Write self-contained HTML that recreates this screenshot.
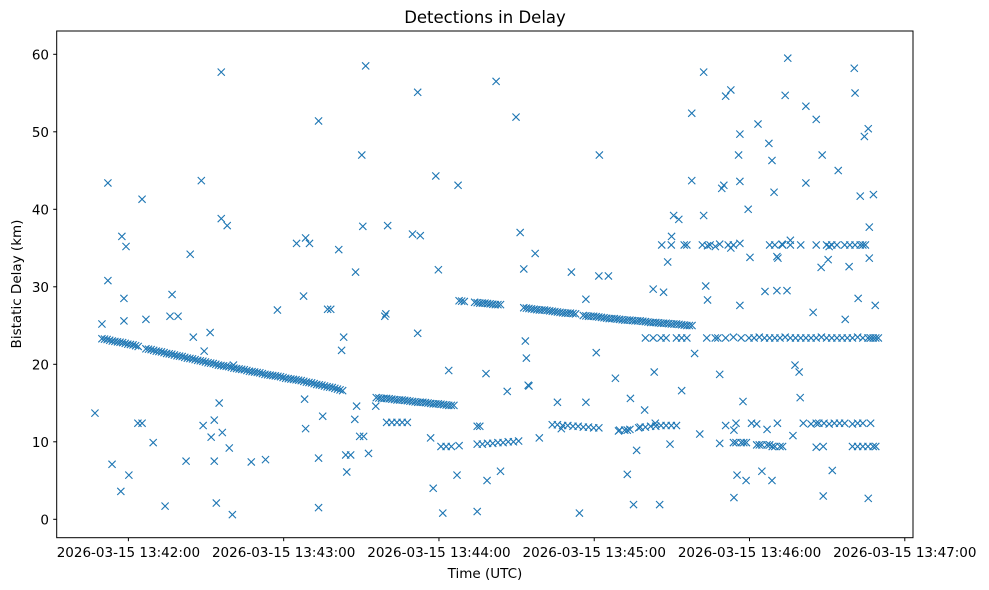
<!DOCTYPE html>
<html><head><meta charset="utf-8"><style>
html,body{margin:0;padding:0;background:#fff;}
svg{display:block;font-family:"DejaVu Sans","Liberation Sans",sans-serif;}
</style></head>
<body>
<svg id="chart" width="989" height="590" viewBox="0 0 989 590" xmlns="http://www.w3.org/2000/svg">
<rect x="0" y="0" width="989" height="590" fill="#fff"/>
<text x="485" y="23" text-anchor="middle" font-size="16.5" fill="#000">Detections in Delay</text>
<text x="485" y="578" text-anchor="middle" font-size="13.5" fill="#000">Time (UTC)</text>
<text transform="translate(21,284) rotate(-90)" text-anchor="middle" font-size="13.5" fill="#000">Bistatic Delay (km)</text>
<g id="marks"></g>
<g id="axes"></g>
</svg>
<script>
// time values: seconds after 13:42:01.78 UTC ; delay in km
const tickTimes = [-1.78, 58.22, 118.22, 178.22, 238.22, 298.22];
const tickLabels = ["2026-03-15 13:42:00","2026-03-15 13:43:00","2026-03-15 13:44:00","2026-03-15 13:45:00","2026-03-15 13:46:00","2026-03-15 13:47:00"];
const yTicks = [0,10,20,30,40,50,60];

const trackAT = [-12,-10,-8,-6,-4,-2,0,2,5,7,9,11,13,15,17,19,21,23,25,27,29,31,33,35,37,39,41,43,45,47,49,51,53,55,57,59,61,63,65,67,69,71,73,75,77,79,81];
const trackAD = [23.3,23.2,23.0,22.9,22.8,22.6,22.5,22.3,22.0,21.9,21.7,21.6,21.4,21.3,21.1,21.0,20.8,20.7,20.5,20.4,20.2,20.1,19.9,19.8,19.7,19.5,19.4,19.3,19.1,19.0,18.9,18.7,18.6,18.5,18.4,18.2,18.1,18.0,17.9,17.7,17.6,17.4,17.3,17.1,17.0,16.8,16.6];
const trackA2T = [-11,-9,-7,-5,-3,-1,1,6,8,10,12,14,16,18,20,22,24,26,28,30,32,34,36,38,40,42,44,46,48,50,52,54,56,58,60,62,64,66,68,70,72,74,76,78,80];
const trackA2D = [23.25,23.1,22.95,22.85,22.7,22.55,22.4,21.95,21.8,21.65,21.5,21.35,21.2,21.05,20.9,20.75,20.6,20.45,20.3,20.15,20.0,19.85,19.75,19.6,19.45,19.35,19.2,19.05,18.95,18.8,18.65,18.55,18.45,18.3,18.15,18.05,17.95,17.8,17.65,17.5,17.35,17.2,17.05,16.9,16.7];
const trackBT = [94,96,98,100,102,104,106,108,110,112,114,116,118,120,122,124];
const trackBD = [15.7,15.6,15.6,15.5,15.4,15.4,15.3,15.2,15.1,15.1,15.0,14.9,14.9,14.8,14.7,14.7];
const trackB2T = [95,97,99,101,103,105,107,109,111,113,115,117,119,121,123];
const trackB2D = [15.65,15.6,15.55,15.45,15.4,15.35,15.25,15.15,15.1,15.05,14.95,14.9,14.85,14.75,14.7];
const trackCT = [126,128,132,134,136,138,140,142,151,153,155,157,159,161,163,165,167,169,171,174,176,178,180,182,184,186,188,190,192,194,196,198,200,202,204,206,208,210,212,214,216];
const trackCD = [28.2,28.1,28.0,27.9,27.9,27.8,27.7,27.7,27.3,27.2,27.1,27.0,27.0,26.9,26.8,26.7,26.6,26.6,26.5,26.3,26.2,26.2,26.1,26.0,25.9,25.9,25.8,25.7,25.7,25.6,25.6,25.5,25.4,25.4,25.3,25.3,25.2,25.2,25.1,25.0,25.0];
const trackC2T = [127,133,135,137,139,141,152,154,156,158,160,162,164,166,168,170,175,177,179,181,183,185,187,189,191,193,195,197,199,201,203,205,207,209,211,213,215];
const trackC2D = [28.15,27.95,27.9,27.85,27.75,27.7,27.25,27.15,27.05,27.0,26.95,26.85,26.75,26.65,26.6,26.55,26.25,26.2,26.15,26.05,25.95,25.9,25.85,25.75,25.7,25.65,25.6,25.55,25.45,25.4,25.35,25.3,25.25,25.2,25.15,25.05,25.0];
const lowT = [98,100,102,104,106,119,121,123,126,133,135,137,139,141,143,145,147,149,162,164,166,168,170,172,174,176,178,180,188,190,192,196,198,200,202,204,206,208,210];
const lowD = [12.5,12.5,12.5,12.5,12.5,9.4,9.4,9.4,9.5,9.7,9.7,9.8,9.8,9.9,9.9,10.0,10.0,10.1,12.2,12.2,12.1,12.1,12.0,12.0,11.9,11.9,11.8,11.8,11.5,11.5,11.6,11.9,11.9,12.0,12.0,12.1,12.1,12.1,12.1];
const lineRT = [198,201,204,206,210,212,214,226,229,232,235,238,240,242,244,246,248,250,252,254,256,258,260,262,264,266,268,270,272,274,276,278,280,282,284,285,286,287,288];
const lineRD = [23.4,23.4,23.4,23.4,23.4,23.4,23.4,23.4,23.4,23.5,23.4,23.4,23.4,23.5,23.4,23.4,23.4,23.4,23.5,23.4,23.4,23.4,23.4,23.4,23.4,23.5,23.4,23.4,23.4,23.4,23.4,23.4,23.5,23.4,23.4,23.4,23.4,23.4,23.4];
const line35T = [208,213,214,220,222,223,225,230,232,246,248,251,254,258,264,268,270,272,275,277,279,281,282,283];
const line35D = [35.4,35.4,35.4,35.4,35.3,35.4,35.2,35.4,35.4,35.4,35.4,35.4,35.4,35.4,35.4,35.4,35.4,35.4,35.4,35.4,35.4,35.4,35.4,35.4];
const line12T = [233,239,241,249,259,262,264,265,267,269,271,273,275,278,280,282,285,232,233,235,236,237,241,242,243,245,246,247,248,250,251,278,280,282,284,286,287];
const line12D = [12.4,12.4,12.3,12.4,12.4,12.3,12.4,12.4,12.4,12.3,12.4,12.4,12.4,12.3,12.4,12.4,12.4,9.9,9.9,9.9,9.9,9.9,9.6,9.6,9.6,9.6,9.6,9.4,9.4,9.4,9.4,9.4,9.4,9.4,9.4,9.4,9.4];
const outT = [-14.7,-12,-9.7,-9.7,-8.1,-4.3,-3.5,-2.7,-3.5,-4.7,-1.6,1.9,3.5,3.5,5,7.8,12.4,14.3,15.1,17.4,20.5,22.1,23.3,26.4,27.5,27.1,29.8,30.2,31.4,31.4,32.2,33.3,34.1,34.1,34.5,36.4,37.2,38.4,38.8,45.7,51.2,55.8,63.2,66.7,65.9,68.2,66.3,66.7,71.7,71.7,71.7,73.3,75.2,76.4,79.5,81.4,80.6,82.6,82.2,84.1,85.7,86,86.4,87.6,88.4,88.8,89.9,89.1,91,93.8,98.4,97.3,97.7,108,110,111,110,115,116,117,118,119.7,122,125.6,125.2,133,133,134,136.8,136.4,140.3,142,144.6,148,149.6,151,151.6,152,155.4,153,157,152.7,164,165.5,169.4,172.5,175,175,179,180,180.2,183.7,186.4,187.6,191,191,192.2,193.4,194.6,195.4,197.7,201,201.4,201.8,203.5,204.3,205,206.6,207.5,208.1,208.9,210.9,212,215.9,215.9,217,219,220.5,220.5,221.7,221.3,222,225,226.7,226.7,226.7,227.5,228.3,229,229,231,231,232.2,232.2,233.4,234.5,234.5,234.5,234,234.5,235.7,236.9,237.7,238.4,241.5,243,244.2,245,245.7,246.9,246.9,247.7,248.8,248.8,249.2,250.8,252,252.7,253,254,255,255.8,257.4,257.8,260,260,262.8,264,266.3,265.9,266.7,268.6,269,270.2,272.5,275.2,276.7,278.7,279,280.2,281,282.6,284.1,284.5,286.1,284.1,284.5,286.8,264,266.7];
const outD = [13.7,25.2,30.8,43.4,7.1,36.5,28.5,35.2,25.6,3.6,5.7,12.4,12.4,41.3,25.8,9.9,1.7,26.2,29,26.2,7.5,34.2,23.5,43.7,21.7,12.1,24.1,10.6,12.8,7.5,2.1,15,57.7,38.8,11.2,37.9,9.2,0.6,19.9,7.4,7.7,27,35.6,36.3,28.8,35.6,15.5,11.7,51.4,7.9,1.5,13.3,27.1,27.1,34.8,23.5,21.8,6.1,8.3,8.3,12.9,31.9,14.6,10.7,47,37.8,58.5,10.7,8.5,14.6,37.9,26.2,26.5,36.8,55.1,36.6,24,10.5,4,44.3,32.2,0.8,19.2,43.1,5.7,12,1,12,5,18.8,56.5,6.2,16.5,51.9,37,32.3,23,20.8,34.3,17.2,10.5,17.3,15.1,11.7,31.9,0.8,28.4,15.1,21.5,31.4,47,31.4,18.2,11.4,5.8,11.5,15.6,1.9,8.9,11.8,14.1,29.7,19,12.4,1.9,35.4,29.3,33.2,9.7,36.5,39.2,38.7,16.6,52.4,43.7,21.4,11,57.7,39.2,23.4,30.1,28.3,23.4,35.5,18.7,9.8,42.7,43.1,54.6,12.1,55.4,35,2.8,11.5,5.7,43.6,49.7,35.6,47,27.6,15.2,5,40,33.8,51,6.2,29.4,11.6,48.5,46.3,5,42.2,29.5,33.9,33.7,35.5,54.7,29.5,59.5,36,10.8,19.9,19,15.7,53.3,43.4,26.7,51.6,47,32.5,3,33.5,35.2,6.3,45,25.8,32.6,58.2,55,28.5,41.7,49.4,50.4,33.7,41.9,2.7,37.7,27.6,9.3,9.4];

const X0 = 133, XS = 2.588, Y0 = 519.3, YS = 7.75;
function xScale(t){ return X0 + t*XS; }
function yScale(d){ return Y0 - d*YS; }
const NS = "http://www.w3.org/2000/svg";
const marks = document.getElementById('marks');
const axes = document.getElementById('axes');
function mk(tag, attrs, parent){ const e=document.createElementNS(NS,tag); for(const k in attrs) e.setAttribute(k,attrs[k]); parent.appendChild(e); return e; }

function drawSeries(ts, ds){
  for(let i=0;i<ts.length;i++){
    const cx=xScale(ts[i]), cy=yScale(ds[i]), r=3.6;
    const p = mk('path',{d:`M${cx-r},${cy-r}L${cx+r},${cy+r}M${cx-r},${cy+r}L${cx+r},${cy-r}`,stroke:'#1f77b4','stroke-width':'1.1',fill:'none'},marks);
    
    
  }
}
drawSeries(trackAT,trackAD);
drawSeries(trackA2T,trackA2D);
drawSeries(trackBT,trackBD);
drawSeries(trackB2T,trackB2D);
drawSeries(trackCT,trackCD);
drawSeries(trackC2T,trackC2D);
drawSeries(lowT,lowD);
drawSeries(lineRT,lineRD);
drawSeries(line35T,line35D);
drawSeries(line12T,line12D);
drawSeries(outT,outD);

const frame = mk('rect',{x:56.7,y:31,width:856.3,height:506.7,fill:'none',stroke:'#000','stroke-width':'1'},axes);


for(let i=0;i<tickTimes.length;i++){
  const x=xScale(tickTimes[i]);
  const tk = mk('line',{x1:x,x2:x,y1:537.7,y2:541.2,stroke:'#000','stroke-width':'1'},axes);
  
  
  const tl = mk('text',{x:x,y:557,'text-anchor':'middle','font-size':'13.5',fill:'#000'},axes);
  tl.textContent = tickLabels[i];
  
  
}
for(let i=0;i<yTicks.length;i++){
  const y=yScale(yTicks[i]);
  const tk = mk('line',{x1:53.2,x2:56.7,y1:y,y2:y,stroke:'#000','stroke-width':'1'},axes);
  
  
  const tl = mk('text',{x:49,y:y+5,'text-anchor':'end','font-size':'13.5',fill:'#000'},axes);
  tl.textContent = String(yTicks[i]);
  
  
}
</script>
</body></html>
